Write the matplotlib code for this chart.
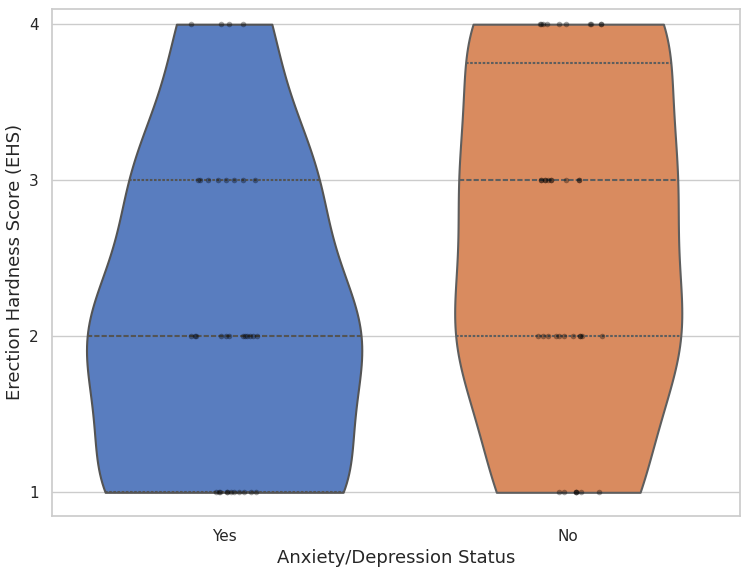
import numpy as np
import pandas as pd
import matplotlib
matplotlib.use("Agg")
import matplotlib.pyplot as plt
import seaborn as sns

groups = ["Yes", "No"]
scores = [1, 2, 3, 4]
yes_counts = [11, 12, 8, 4]
no_counts = [7, 11, 10, 10]

xcol = "Anxiety/Depression Status"
ycol = "Erection Hardness Score (EHS)"
rows = []
for g, counts in zip(groups, [yes_counts, no_counts]):
    for s, c in zip(scores, counts):
        rows += [(g, s)] * c
df = pd.DataFrame(rows, columns=[xcol, ycol])

sns.set_theme(style="whitegrid")
np.random.seed(0)
pal = sns.color_palette("muted")
widths = [0.8, 0.66]
fig, ax = plt.subplots(figsize=(7.44, 5.73), dpi=100)
for i, g in enumerate(groups):
    sns.violinplot(data=df[df[xcol] == g], x=xcol, y=ycol, color=pal[i],
                   inner="quartile", cut=0, ax=ax, linewidth=1.5, order=groups,
                   width=widths[i])
sns.stripplot(data=df, x=xcol, y=ycol, color="black", alpha=0.35, size=4,
              jitter=True, ax=ax, order=groups)
ax.set_yticks(scores)
ax.set_ylim(0.85, 4.1)
ax.set_xlim(-0.5, 1.5)
ax.tick_params(labelsize=11)
ax.set_xlabel(xcol, fontsize=13)
ax.set_ylabel(ycol, fontsize=13)
fig.subplots_adjust(left=0.07, right=0.995, top=0.985, bottom=0.1)
fig.savefig("out.png", dpi=100)
